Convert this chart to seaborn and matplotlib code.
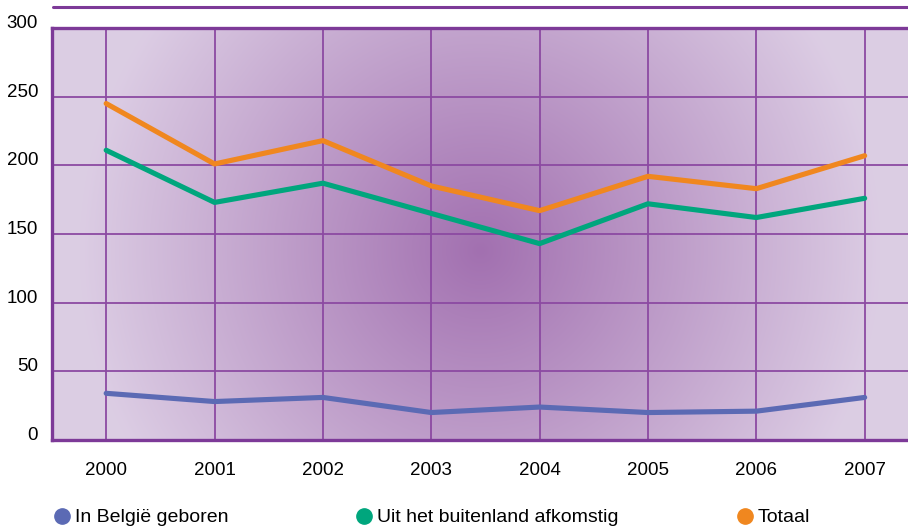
import numpy as np
import pandas as pd
import matplotlib
matplotlib.use("Agg")
import matplotlib.pyplot as plt
from matplotlib.colors import to_rgb
from matplotlib.lines import Line2D
import seaborn as sns

# data
years = [2000, 2001, 2002, 2003, 2004, 2005, 2006, 2007]
belgie = [34, 28, 31, 20, 24, 20, 21, 31]
buitenland = [211, 173, 187, 165, 143, 172, 162, 176]
totaal = [245, 201, 218, 185, 167, 192, 183, 207]
series_names = ["In België geboren", "Uit het buitenland afkomstig", "Totaal"]
colors = ["#5b6ab4", "#00a67d", "#f0871f"]
yticks = [0, 50, 100, 150, 200, 250, 300]

df = pd.DataFrame({
    "jaar": years * 3,
    "aantal": belgie + buitenland + totaal,
    "reeks": [series_names[0]] * 8 + [series_names[1]] * 8 + [series_names[2]] * 8,
})

sns.set_style("white")
plt.rcParams["font.family"] = ["Liberation Sans", "DejaVu Sans"]

PURPLE = "#7d3a98"
GRID = "#8c4aa2"

fig = plt.figure(figsize=(9.08, 5.26), dpi=100)
ax = fig.add_axes([52 / 908, 86 / 526, 856 / 908, 412 / 526])

# radial purple background
w, h = 856, 412
xx, yy = np.meshgrid(np.arange(w), np.arange(h))
r = np.sqrt((xx - 428) ** 2 + (yy - 222) ** 2)
t = np.clip(1 - r / 400, 0, 1)[..., None]
edge = np.array(to_rgb("#dccde4"))
center = np.array(to_rgb("#a270b0"))
img = edge + (center - edge) * t
ax.imshow(img, extent=[0, 1, 0, 1], transform=ax.transAxes, aspect="auto", zorder=0)

sns.lineplot(data=df, x="jaar", y="aantal", hue="reeks", palette=colors,
             linewidth=3.7, ax=ax, legend=False, zorder=3)

ax.set_xlim(1999.5, 2007.4)
ax.set_ylim(0, 300)
ax.set_xticks(years)
ax.set_yticks(yticks)
ax.set_xlabel("")
ax.set_ylabel("")
ax.grid(True, color=GRID, linewidth=1.3, zorder=1)
ax.set_axisbelow(False)
for line in ax.get_xgridlines() + ax.get_ygridlines():
    line.set_zorder(2)

for side in ["top", "left", "bottom"]:
    ax.spines[side].set_color(PURPLE)
    ax.spines[side].set_linewidth(2.4)
    ax.spines[side].set_zorder(4)
ax.spines["right"].set_visible(False)

ax.tick_params(axis="both", length=0, labelsize=13.5, colors="#000000")
ax.tick_params(axis="x", pad=16)
ax.tick_params(axis="y", pad=10)
for lbl in ax.get_yticklabels():
    lbl.set_verticalalignment("baseline")

# line above the chart
fig.add_artist(Line2D([53 / 908, 1.0], [1 - 7 / 526, 1 - 7 / 526],
                      color=PURPLE, linewidth=2.2))

# legend
leg_x = [62, 364, 745]
for x, name, c in zip(leg_x, series_names, colors):
    fig.add_artist(Line2D([x / 908], [1 - 516 / 526], marker="o", markersize=11,
                          color=c, linestyle="none"))
    fig.text((x + 13) / 908, 1 - 517 / 526, name, fontsize=14,
             va="center", ha="left", color="#000000")

fig.savefig("out.png", dpi=100)
